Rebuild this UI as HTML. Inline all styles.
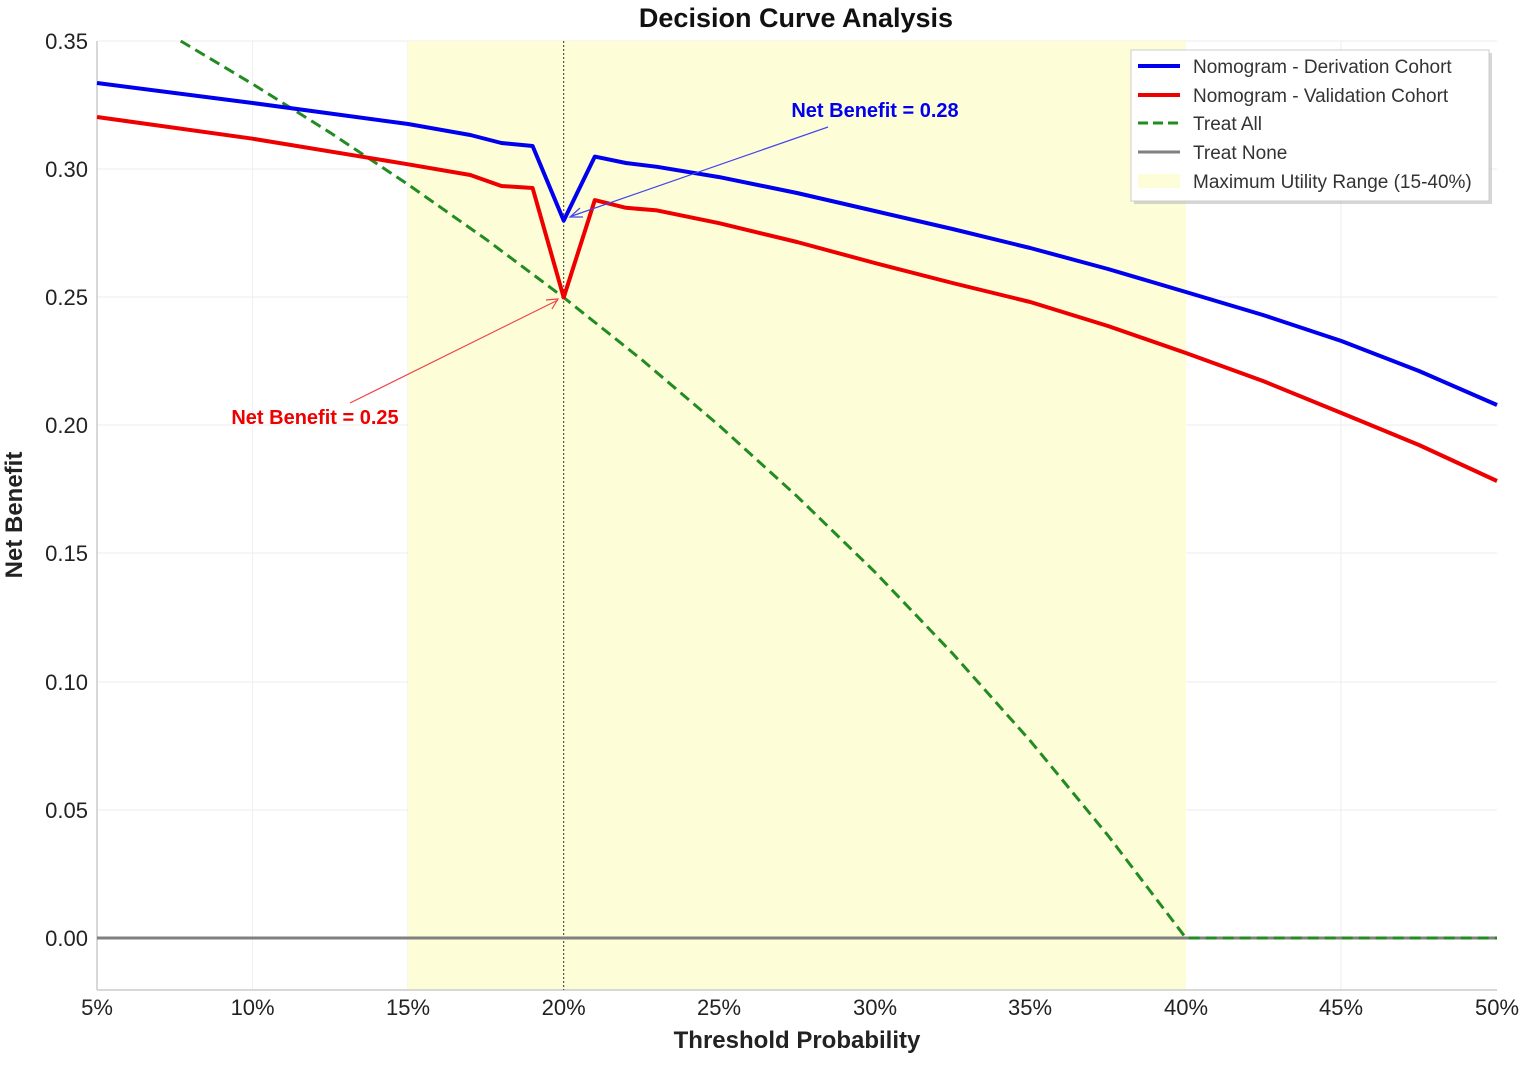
<!DOCTYPE html>
<html><head><meta charset="utf-8"><style>body{margin:0;background:#fff}</style></head><body>
<svg width="1535" height="1066" viewBox="0 0 1535 1066" xmlns="http://www.w3.org/2000/svg" font-family="Liberation Sans, sans-serif">
<rect width="1535" height="1066" fill="#fff"/>
<g stroke="#eeeeee" stroke-width="1">
<line x1="97" y1="41" x2="1497" y2="41"/><line x1="97" y1="169" x2="1497" y2="169"/><line x1="97" y1="297" x2="1497" y2="297"/><line x1="97" y1="425" x2="1497" y2="425"/><line x1="97" y1="553" x2="1497" y2="553"/><line x1="97" y1="682" x2="1497" y2="682"/><line x1="97" y1="810" x2="1497" y2="810"/>
<line x1="252.6" y1="41" x2="252.6" y2="990"/><line x1="408" y1="41" x2="408" y2="990"/><line x1="719" y1="41" x2="719" y2="990"/><line x1="875" y1="41" x2="875" y2="990"/><line x1="1030" y1="41" x2="1030" y2="990"/><line x1="1341" y1="41" x2="1341" y2="990"/>
</g>
<rect x="408" y="41" width="778" height="949" fill="#fdfdd8"/>
<line x1="97" y1="41" x2="97" y2="990" stroke="#ccc" stroke-width="1.5"/>
<line x1="97" y1="990" x2="1497" y2="990" stroke="#ccc" stroke-width="1.5"/>
<line x1="563.7" y1="41" x2="563.7" y2="990" stroke="#333" stroke-width="1" stroke-dasharray="2,2"/>
<line x1="97" y1="938" x2="1497" y2="938" stroke="#808080" stroke-width="3"/>
<polyline fill="none" stroke="#228B22" stroke-width="3" stroke-dasharray="11,6" points="180.7,41 252.6,84 330.4,132.8 408.1,184.5 486,239.3 563.7,297.5 641.5,359.5 719.2,425.6 797,496.3 874.8,571.9 952.5,653.4 1030.3,740.9 1108,835.5 1185.9,938 1497,938"/>
<polyline fill="none" stroke="#0000ee" stroke-width="4" stroke-linejoin="round" points="97,83 252.6,103 408.1,124 470.3,135 501.4,143 532.6,146 563.7,220.6 594.8,156.6 625.9,163 657,166.8 719.2,177.1 797,193 874.8,211 952.5,229 1030.3,248 1108,269 1185.9,292 1263,315 1341.4,341 1419,371 1497,405"/>
<polyline fill="none" stroke="#ee0000" stroke-width="4" stroke-linejoin="round" points="97,117 252.6,138.7 408.1,164.3 470.3,175 501.4,186 532.6,188 563.7,297.5 594.8,200.1 625.9,207.8 657,210.4 719.2,223.2 797,242 874.8,263 952.5,283 1030.3,302 1108,326 1185.9,353 1263,381 1341.4,413 1419,445 1497,481"/>
<line x1="828" y1="127" x2="572" y2="216" stroke="#4444ee" stroke-width="1.2"/>
<polyline points="580,208 570,217 583,217" fill="none" stroke="#4444ee" stroke-width="1.2"/>
<line x1="350" y1="403" x2="558" y2="300" stroke="#ee4444" stroke-width="1.2"/>
<polyline points="546,300 558,299 552,309" fill="none" stroke="#ee4444" stroke-width="1.2"/>
<text x="875" y="117" font-size="20" font-weight="bold" fill="#0000ee" text-anchor="middle">Net Benefit = 0.28</text>
<text x="315" y="424" font-size="20" font-weight="bold" fill="#ee0000" text-anchor="middle">Net Benefit = 0.25</text>
<text x="796" y="27" font-size="27" font-weight="bold" text-anchor="middle" fill="#111">Decision Curve Analysis</text>
<g font-size="22" fill="#222" text-anchor="end">
<text x="88" y="49">0.35</text><text x="88" y="177">0.30</text><text x="88" y="305">0.25</text><text x="88" y="433">0.20</text><text x="88" y="561">0.15</text><text x="88" y="690">0.10</text><text x="88" y="818">0.05</text><text x="88" y="946">0.00</text>
</g>
<g font-size="22" fill="#222" text-anchor="middle">
<text x="97" y="1015">5%</text><text x="252.6" y="1015">10%</text><text x="408" y="1015">15%</text><text x="563.7" y="1015">20%</text><text x="719" y="1015">25%</text><text x="875" y="1015">30%</text><text x="1030" y="1015">35%</text><text x="1186" y="1015">40%</text><text x="1341" y="1015">45%</text><text x="1497" y="1015">50%</text>
</g>
<text x="797" y="1048" font-size="24" font-weight="bold" text-anchor="middle" fill="#222">Threshold Probability</text>
<text transform="translate(22,515) rotate(-90)" font-size="24" font-weight="bold" text-anchor="middle" fill="#222">Net Benefit</text>
<rect x="1134" y="53" width="358" height="151" fill="#bbb" opacity="0.6"/>
<rect x="1131" y="50" width="358" height="151" fill="#fff" stroke="#ccc"/>
<line x1="1138" y1="66" x2="1180" y2="66" stroke="#0000ee" stroke-width="4"/>
<line x1="1138" y1="95" x2="1180" y2="95" stroke="#ee0000" stroke-width="4"/>
<line x1="1138" y1="123" x2="1180" y2="123" stroke="#228B22" stroke-width="3" stroke-dasharray="10,5"/>
<line x1="1138" y1="152" x2="1180" y2="152" stroke="#808080" stroke-width="3"/>
<rect x="1138" y="174" width="42" height="14" fill="#fdfdd8"/>
<g font-size="19" fill="#333">
<text x="1193" y="73">Nomogram - Derivation Cohort</text><text x="1193" y="102">Nomogram - Validation Cohort</text><text x="1193" y="130">Treat All</text><text x="1193" y="159">Treat None</text><text x="1193" y="188">Maximum Utility Range (15-40%)</text>
</g>
</svg>
</body></html>
